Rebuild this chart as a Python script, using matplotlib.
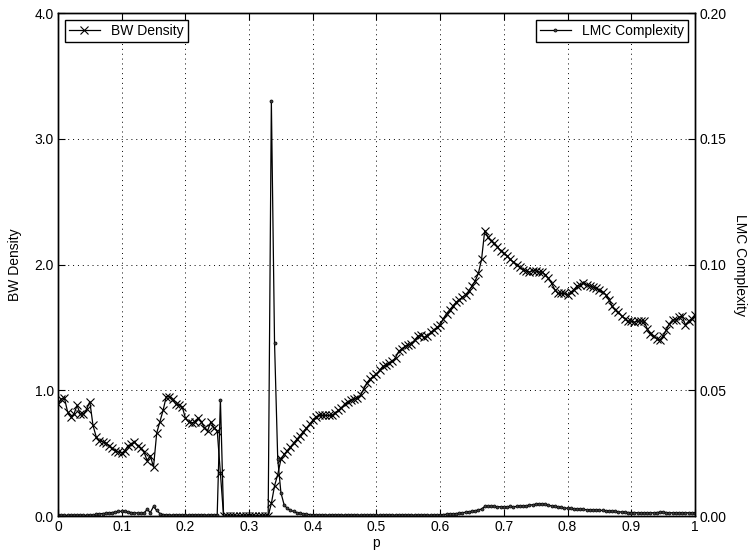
import matplotlib
matplotlib.use('Agg')
import matplotlib.pyplot as plt
import numpy as np

plt.rcParams['font.family'] = ['Liberation Sans', 'DejaVu Sans']

# sample points, step 0.005
p = np.round(np.arange(0, 1.0001, 0.005), 3)

bw_density = (
    [0.89, 0.93, 0.94, 0.83, 0.79, 0.81, 0.88, 0.81, 0.81, 0.85,   # 0.000 - 0.045
     0.91, 0.72, 0.63, 0.60, 0.59, 0.58, 0.56, 0.54, 0.52, 0.51,   # 0.050 - 0.095
     0.50, 0.52, 0.56, 0.57, 0.59, 0.56, 0.54, 0.51, 0.44, 0.48,   # 0.100 - 0.145
     0.39, 0.66, 0.75, 0.84, 0.95, 0.95, 0.93, 0.89, 0.88, 0.87,   # 0.150 - 0.195
     0.78, 0.75, 0.74, 0.75, 0.78, 0.75, 0.70, 0.68, 0.75, 0.70,   # 0.200 - 0.245
     0.68, 0.34, 0.0]                                              # 0.250 - 0.260
    + [0.0] * 14                                                   # 0.265 - 0.330
    + [0.10, 0.24, 0.33, 0.45, 0.49, 0.52, 0.55,                   # 0.335 - 0.365
       0.58, 0.61, 0.64, 0.67, 0.70, 0.73, 0.76, 0.79, 0.80, 0.80, # 0.370 - 0.415
       0.80, 0.80, 0.80, 0.82, 0.84, 0.86, 0.89, 0.91, 0.92, 0.93, # 0.420 - 0.465
       0.94, 0.96, 1.01, 1.06, 1.09, 1.11, 1.13, 1.16, 1.19, 1.20, # 0.470 - 0.515
       1.22, 1.23, 1.26, 1.31, 1.33, 1.35, 1.36, 1.37, 1.40, 1.43, # 0.520 - 0.565
       1.44, 1.42, 1.43, 1.46, 1.48, 1.50, 1.52, 1.57, 1.61, 1.64, # 0.570 - 0.615
       1.67, 1.70, 1.72, 1.74, 1.76, 1.79, 1.83, 1.87, 1.93, 2.04, # 0.620 - 0.665
       2.27, 2.22, 2.19, 2.17, 2.14, 2.11, 2.09, 2.07, 2.04, 2.02, # 0.670 - 0.715
       2.00, 1.98, 1.96, 1.95, 1.94, 1.95, 1.95, 1.94, 1.94, 1.92, # 0.720 - 0.765
       1.89, 1.85, 1.80, 1.77, 1.77, 1.77, 1.76, 1.78, 1.80, 1.83, # 0.770 - 0.815
       1.84, 1.85, 1.84, 1.83, 1.82, 1.81, 1.80, 1.78, 1.76, 1.72, # 0.820 - 0.865
       1.67, 1.64, 1.62, 1.59, 1.57, 1.55, 1.55, 1.54, 1.55, 1.55, # 0.870 - 0.915
       1.55, 1.49, 1.45, 1.43, 1.41, 1.40, 1.43, 1.48, 1.53, 1.56, # 0.920 - 0.965
       1.56, 1.58, 1.59, 1.52, 1.55, 1.57, 1.60]                   # 0.970 - 1.000
)

lmc_complexity = (
    [0.0003] * 12                                                  # 0.000 - 0.055
    + [0.0007, 0.0009, 0.0010, 0.0011, 0.0012, 0.0014, 0.0016, 0.0018,  # 0.060 - 0.095
       0.0019, 0.0018, 0.0016, 0.0014, 0.0013, 0.0012, 0.0011, 0.0012,  # 0.100 - 0.135
       0.0026, 0.0014, 0.0038, 0.0022, 0.0010, 0.0006, 0.0004]          # 0.140 - 0.170
    + [0.0004] * 15                                                # 0.175 - 0.245
    + [0.0006, 0.0463, 0.0]                                        # 0.250 - 0.260
    + [0.0] * 14                                                   # 0.265 - 0.330
    + [0.165, 0.0688, 0.0227, 0.0093, 0.0045, 0.0030, 0.0023,      # 0.335 - 0.365
       0.0018, 0.0014, 0.0011, 0.0009, 0.0007, 0.0006, 0.0005]     # 0.370 - 0.400
    + [0.0004] * 40                                                # 0.405 - 0.600
    + [0.0006, 0.0007, 0.0008, 0.0009, 0.0010, 0.0011, 0.0013, 0.0015,  # 0.605 - 0.640
       0.0017, 0.0019, 0.0021, 0.0024, 0.0028, 0.0038, 0.0039, 0.0038,  # 0.645 - 0.680
       0.0038, 0.0037, 0.0037, 0.0037, 0.0037, 0.0038, 0.0037, 0.0038,  # 0.685 - 0.720
       0.0039, 0.0040, 0.0041, 0.0043, 0.0045, 0.0047, 0.0048, 0.0048,  # 0.725 - 0.760
       0.0046, 0.0043, 0.0040, 0.0039, 0.0036, 0.0034, 0.0032, 0.0031,  # 0.765 - 0.800
       0.0030, 0.0029, 0.0028, 0.0027, 0.0026, 0.0025, 0.0025, 0.0024,  # 0.805 - 0.840
       0.0024, 0.0023, 0.0022, 0.0021, 0.0020, 0.0019, 0.0018, 0.0017,  # 0.845 - 0.880
       0.0016, 0.0015, 0.0014, 0.0014, 0.0014, 0.0013, 0.0013, 0.0013,  # 0.885 - 0.920
       0.0013, 0.0013, 0.0013, 0.0014, 0.0015, 0.0015, 0.0014, 0.0013,  # 0.925 - 0.960
       0.0013, 0.0013, 0.0013, 0.0013, 0.0013, 0.0013, 0.0013, 0.0013]  # 0.965 - 1.000
)

x_ticks = [0, 0.1, 0.2, 0.3, 0.4, 0.5, 0.6, 0.7, 0.8, 0.9, 1]
x_labels = ['0', '0.1', '0.2', '0.3', '0.4', '0.5', '0.6', '0.7', '0.8', '0.9', '1']
bw_ticks = [0.0, 1.0, 2.0, 3.0, 4.0]
lmc_ticks = [0.00, 0.05, 0.10, 0.15, 0.20]

fig = plt.figure(figsize=(7.52, 5.56), dpi=100)
ax = fig.add_axes([0.0771, 0.0719, 0.847, 0.9047])
ax2 = ax.twinx()

ax.plot(p, bw_density, color='black', lw=0.9, marker='x', ms=5.5, mew=0.8,
        label='BW Density')
ax2.plot(p, lmc_complexity, color='black', lw=0.9, marker='o', ms=2.2,
         mew=0.5, mfc='#444444', label='LMC Complexity')

ax.set_xlim(0, 1)
ax.set_ylim(0, 4)
ax2.set_ylim(0, 0.2)
ax.set_xticks(x_ticks)
ax.set_xticklabels(x_labels)
ax.set_yticks(bw_ticks)
ax.set_yticklabels(['%.1f' % t for t in bw_ticks])
ax2.set_yticks(lmc_ticks)
ax2.set_yticklabels(['%.2f' % t for t in lmc_ticks])

ax.grid(True, linestyle=(0, (1, 4)), color='black', lw=0.7)
ax.tick_params(direction='in', top=True, length=5, labelsize=10, pad=3)
ax2.tick_params(direction='in', length=5, labelsize=10, pad=3)

ax.set_xlabel('p', fontsize=10, labelpad=1)
ax.set_ylabel('BW Density', fontsize=10, va='center')
ax.yaxis.set_label_coords(-0.068, 0.5)
ax2.set_ylabel('LMC Complexity', fontsize=10, rotation=-90, va='center')
ax2.yaxis.set_label_coords(1.07, 0.5)

for a in (ax, ax2):
    for s in a.spines.values():
        s.set_linewidth(1.0)

leg1 = ax.legend(loc='upper left', fontsize=10, fancybox=False, framealpha=1,
                 edgecolor='black', borderaxespad=0.5, handlelength=2.2,
                 borderpad=0.3)
leg1.get_frame().set_linewidth(1.0)
leg2 = ax2.legend(loc='upper right', fontsize=10, fancybox=False, framealpha=1,
                  edgecolor='black', borderaxespad=0.5, handlelength=2.2,
                  borderpad=0.3)
leg2.get_frame().set_linewidth(1.0)

fig.savefig('out.png', dpi=100)
